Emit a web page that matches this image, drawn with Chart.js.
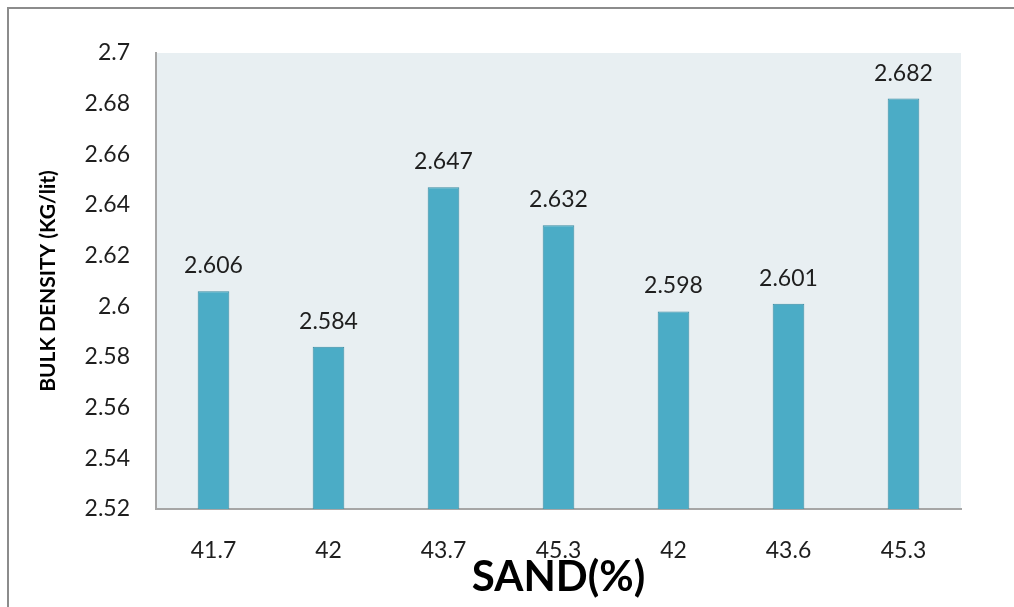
<!DOCTYPE html>
<html>
<head>
<meta charset="utf-8">
<script src="https://cdn.jsdelivr.net/npm/chart.js@4"></script>
<style>
  html, body { margin: 0; padding: 0; background: #ffffff; }
  #wrap { position: relative; width: 1014px; height: 607px; overflow: hidden; }
  #frame { position: absolute; left: 7px; top: 7px; width: 1100px; height: 700px;
           border-left: 2px solid #8c8c8c; border-top: 2px solid #8c8c8c; pointer-events: none; }
  canvas { position: absolute; left: 0; top: 0; }
</style>
</head>
<body>
<div id="wrap">
  <canvas id="chart" width="1014" height="607"></canvas>
  <div id="frame"></div>
</div>
<script>
// Sand content of each mix and its measured bulk density
const sandLabels = ['41.7', '42', '43.7', '45.3', '42', '43.6', '45.3'];
const bulkDensity = [2.606, 2.584, 2.647, 2.632, 2.598, 2.601, 2.682];
const yMin = 2.52;
const yMax = 2.7;
const yStep = 0.02;
const xTitle = 'SAND(%)';
const yTitle = 'BULK DENSITY (KG/lit)';

const FONT = 'Lato, "Open Sans", sans-serif';
const TEXT = '#1e1e1e';

// light panel behind the bars
const plotBackground = {
  id: 'plotBackground',
  beforeDraw(chart) {
    const { ctx, chartArea: a } = chart;
    ctx.save();
    ctx.fillStyle = '#e8eff2';
    ctx.fillRect(a.left, a.top, a.right - a.left, a.bottom - a.top);
    ctx.restore();
  }
};

// value printed above each bar
const valueLabels = {
  id: 'valueLabels',
  afterDatasetsDraw(chart) {
    const { ctx } = chart;
    const meta = chart.getDatasetMeta(0);
    const data = chart.data.datasets[0].data;
    ctx.save();
    ctx.font = '23px ' + FONT;
    ctx.fillStyle = TEXT;
    ctx.textAlign = 'center';
    ctx.textBaseline = 'bottom';
    meta.data.forEach((bar, i) => {
      ctx.fillText(data[i].toFixed(3), bar.x, bar.y - 14);
    });
    ctx.restore();
  }
};

new Chart(document.getElementById('chart'), {
  type: 'bar',
  data: {
    labels: sandLabels,
    datasets: [{
      data: bulkDensity,
      backgroundColor: '#4bacc6',
      borderColor: '#3a8ca4',
      borderWidth: 1,
      borderSkipped: 'bottom',
      categoryPercentage: 1,
      barPercentage: 0.275
    }]
  },
  options: {
    responsive: false,
    animation: false,
    devicePixelRatio: 1,
    layout: { padding: { top: 53, right: 53, bottom: 0, left: 0 } },
    plugins: { legend: { display: false }, tooltip: { enabled: false } },
    scales: {
      x: {
        grid: { display: false },
        border: { display: true, color: '#a6a6a6', width: 2 },
        ticks: { color: TEXT, font: { family: FONT, size: 23 }, padding: 20, maxRotation: 0 },
        title: {
          display: true, text: xTitle, color: '#000000',
          font: { family: FONT, size: 42, weight: 'bold' },
          padding: { top: 0, bottom: 4 }
        },
        afterFit(scale) { scale.height = 98; }
      },
      y: {
        min: yMin,
        max: yMax,
        grid: { display: false },
        border: { display: true, color: '#a6a6a6', width: 2 },
        ticks: {
          stepSize: yStep,
          color: TEXT,
          font: { family: FONT, size: 23 },
          padding: 18,
          callback: v => String(parseFloat(Number(v).toFixed(2)))
        },
        title: {
          display: true, text: yTitle, color: '#000000',
          font: { family: FONT, size: 21, weight: 'bold' },
          padding: { top: 36, bottom: 0 }
        },
        afterFit(scale) { scale.width = 156; }
      }
    }
  },
  plugins: [plotBackground, valueLabels]
});
</script>
</body>
</html>
